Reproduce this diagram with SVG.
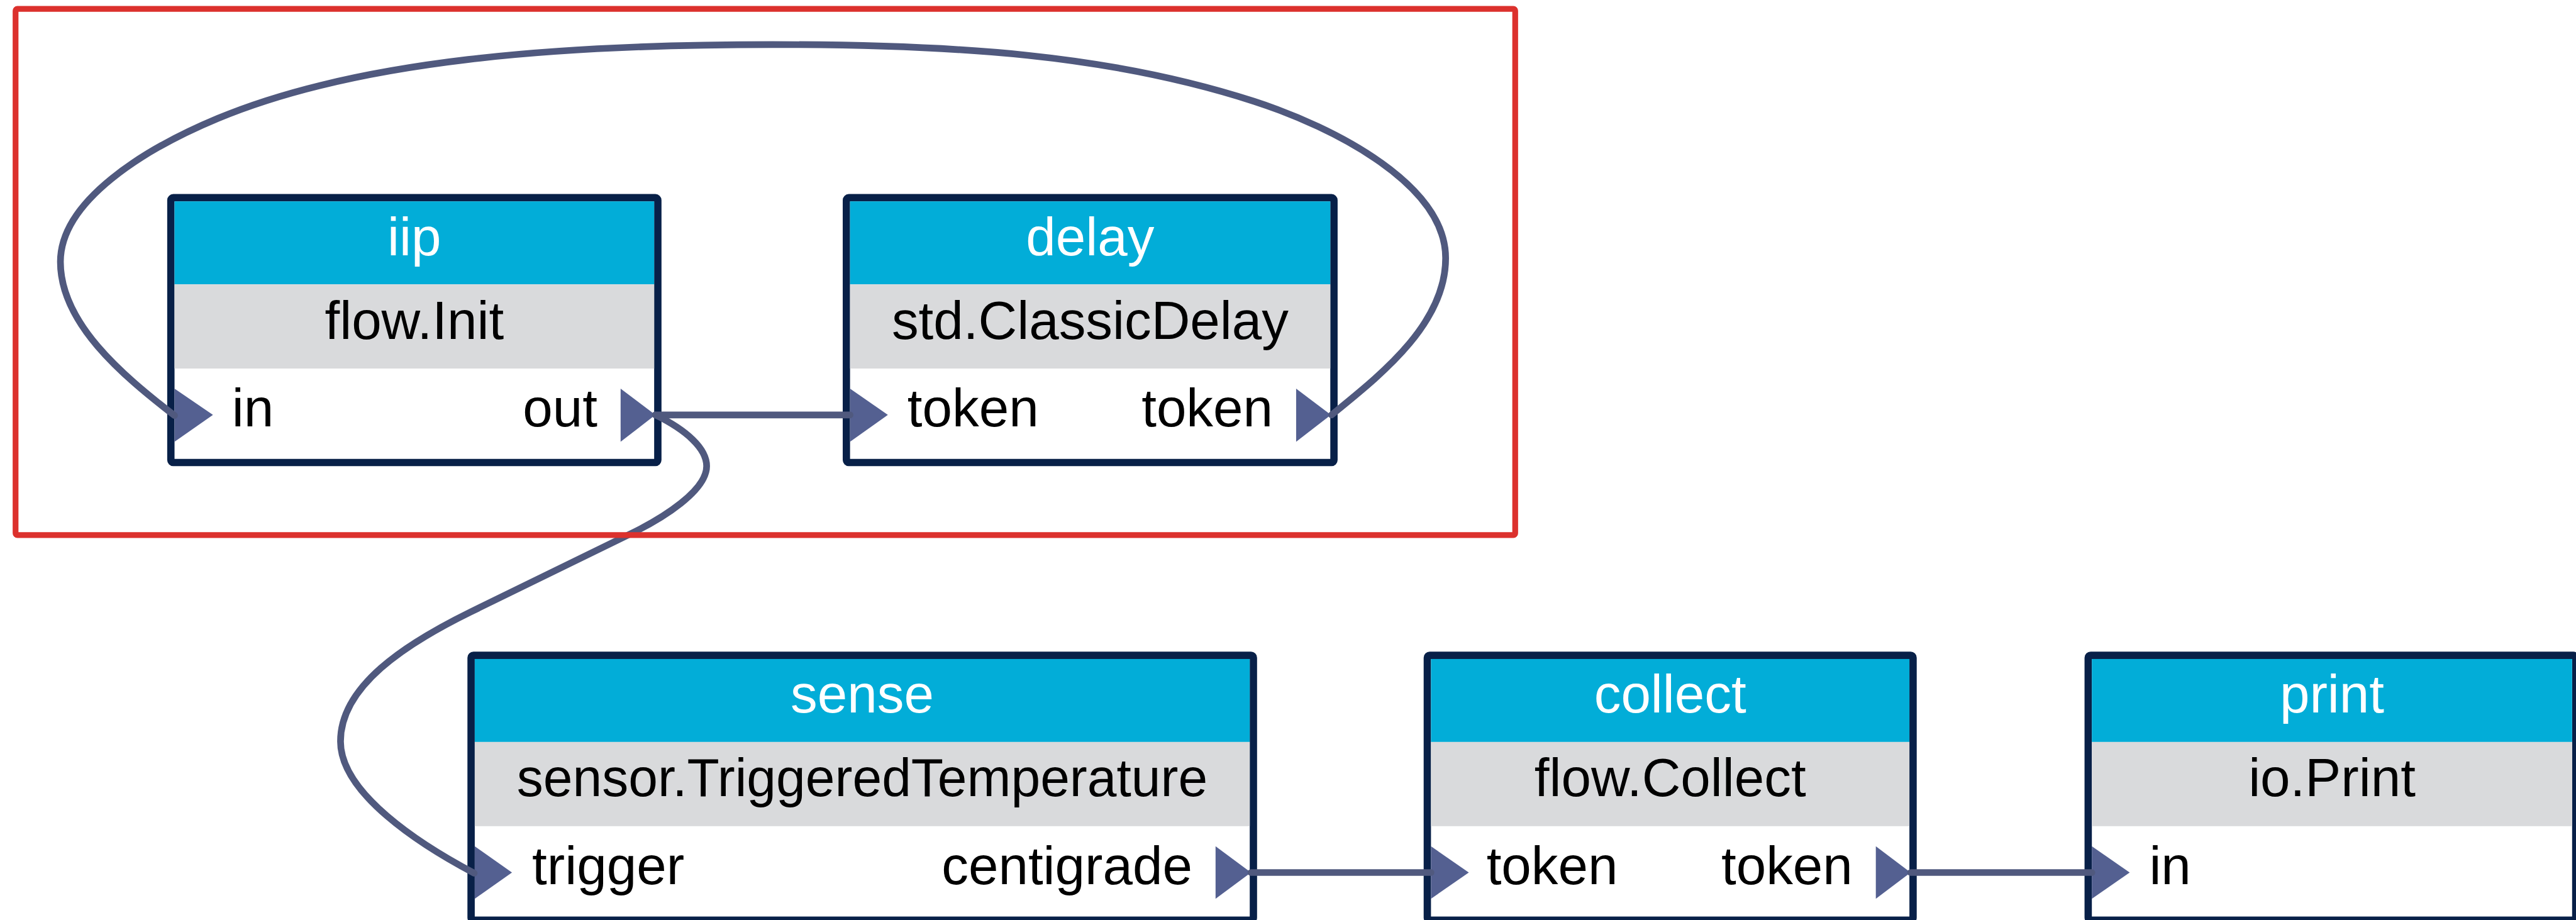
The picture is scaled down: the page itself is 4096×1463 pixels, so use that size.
<svg xmlns="http://www.w3.org/2000/svg" width="4096" height="1463" viewBox="0 0 4096 1463">
  <style>
    .frame { fill: #ffffff; stroke: #082048; stroke-width: 12; }
    .head { fill: #02add8; }
    .kind { fill: #d9dadc; }
    .port { fill: #546091; }
    text { font-family: "Liberation Sans", Arial, Helvetica, sans-serif; font-size: 88px; }
    .title { fill: #ffffff; text-anchor: middle; }
    .cls { fill: #000000; text-anchor: middle; }
    .pin { fill: #000000; text-anchor: start; }
    .pout { fill: #000000; text-anchor: end; }
    .wire { fill: none; stroke: #50597e; stroke-width: 11; stroke-linecap: round; stroke-linejoin: round; }
    .group { fill: none; stroke: #dc312d; stroke-width: 9.5; }
  </style>
  <rect x="0" y="0" width="4096" height="1463" fill="#ffffff"/>
  <g transform="scale(0.9703)">
    <!-- iip : flow.Init -->
    <g id="node-iip">
      <rect class="frame" x="280" y="324" width="798" height="434" rx="4"/>
      <rect class="head" x="286" y="330" width="786" height="136"/>
      <rect class="kind" x="286" y="466" width="786" height="138"/>
      <polygon class="port" points="286,637 349,680 286,724"/>
      <polygon class="port" points="1017,637 1074,680 1017,724"/>
      <text class="title" x="679" y="418">iip</text>
      <text class="cls" x="679" y="555">flow.Init</text>
      <text class="pin" x="380" y="699">in</text>
      <text class="pout" x="979" y="699">out</text>
    </g>
    <!-- delay : std.ClassicDelay -->
    <g id="node-delay">
      <rect class="frame" x="1387" y="324" width="799" height="434" rx="4"/>
      <rect class="head" x="1393" y="330" width="787" height="136"/>
      <rect class="kind" x="1393" y="466" width="787" height="138"/>
      <polygon class="port" points="1393,637 1455,680 1393,724"/>
      <polygon class="port" points="2124,637 2181,680 2124,724"/>
      <text class="title" x="1786.5" y="418">delay</text>
      <text class="cls" x="1786.5" y="555">std.ClassicDelay</text>
      <text class="pin" x="1487" y="699">token</text>
      <text class="pout" x="2086" y="699">token</text>
    </g>
    <!-- sense : sensor.TriggeredTemperature -->
    <g id="node-sense">
      <rect class="frame" x="772" y="1074" width="1282" height="434" rx="4"/>
      <rect class="head" x="778" y="1080" width="1270" height="136"/>
      <rect class="kind" x="778" y="1216" width="1270" height="138"/>
      <polygon class="port" points="778,1387 839,1430 778,1473"/>
      <polygon class="port" points="1992,1387 2050,1430 1992,1473"/>
      <text class="title" x="1413" y="1168">sense</text>
      <text class="cls" x="1413" y="1305" textLength="1132" lengthAdjust="spacingAndGlyphs">sensor.TriggeredTemperature</text>
      <text class="pin" x="872" y="1449">trigger</text>
      <text class="pout" x="1954" y="1449">centigrade</text>
    </g>
    <!-- collect : flow.Collect -->
    <g id="node-collect">
      <rect class="frame" x="2339" y="1074" width="796" height="434" rx="4"/>
      <rect class="head" x="2345" y="1080" width="784" height="136"/>
      <rect class="kind" x="2345" y="1216" width="784" height="138"/>
      <polygon class="port" points="2345,1387 2407,1430 2345,1473"/>
      <polygon class="port" points="3074,1387 3131,1430 3074,1473"/>
      <text class="title" x="2737" y="1168">collect</text>
      <text class="cls" x="2737" y="1305">flow.Collect</text>
      <text class="pin" x="2436" y="1449">token</text>
      <text class="pout" x="3036" y="1449">token</text>
    </g>
    <!-- print : io.Print -->
    <g id="node-print">
      <rect class="frame" x="3422" y="1074" width="799" height="434" rx="4"/>
      <rect class="head" x="3428" y="1080" width="787" height="136"/>
      <rect class="kind" x="3428" y="1216" width="787" height="138"/>
      <polygon class="port" points="3428,1387 3490,1430 3428,1473"/>
      <text class="title" x="3821.5" y="1168">print</text>
      <text class="cls" x="3821.5" y="1305">io.Print</text>
      <text class="pin" x="3522" y="1449">in</text>
    </g>
    <!-- connections -->
    <g id="connectors">
      <path class="wire" d="M1074,680 H1393"/>
      <path class="wire" d="M2182,680 C2259,617 2369,533 2369,423 C2369,303 2188,209 2055,166 C1817,89 1566,73 1266,73 C916,73 588,98 357,194 C237,244 99,329 99,429 C99,529 199,614 286,681"/>
      <path class="wire" d="M1074,680 C1125,705 1158,735 1158,764 C1158,804 1087,849 1033,875 L771,1003 C663,1056 558,1125 558,1215 C558,1300 688,1384 777,1431"/>
      <path class="wire" d="M2050,1430 H2345"/>
      <path class="wire" d="M3131,1430 H3428"/>
    </g>
    <!-- subgraph outline -->
    <g id="group-outline">
      <rect class="group" x="25.5" y="14.5" width="2457.5" height="862.5" rx="3"/>
    </g>
  </g>
</svg>
